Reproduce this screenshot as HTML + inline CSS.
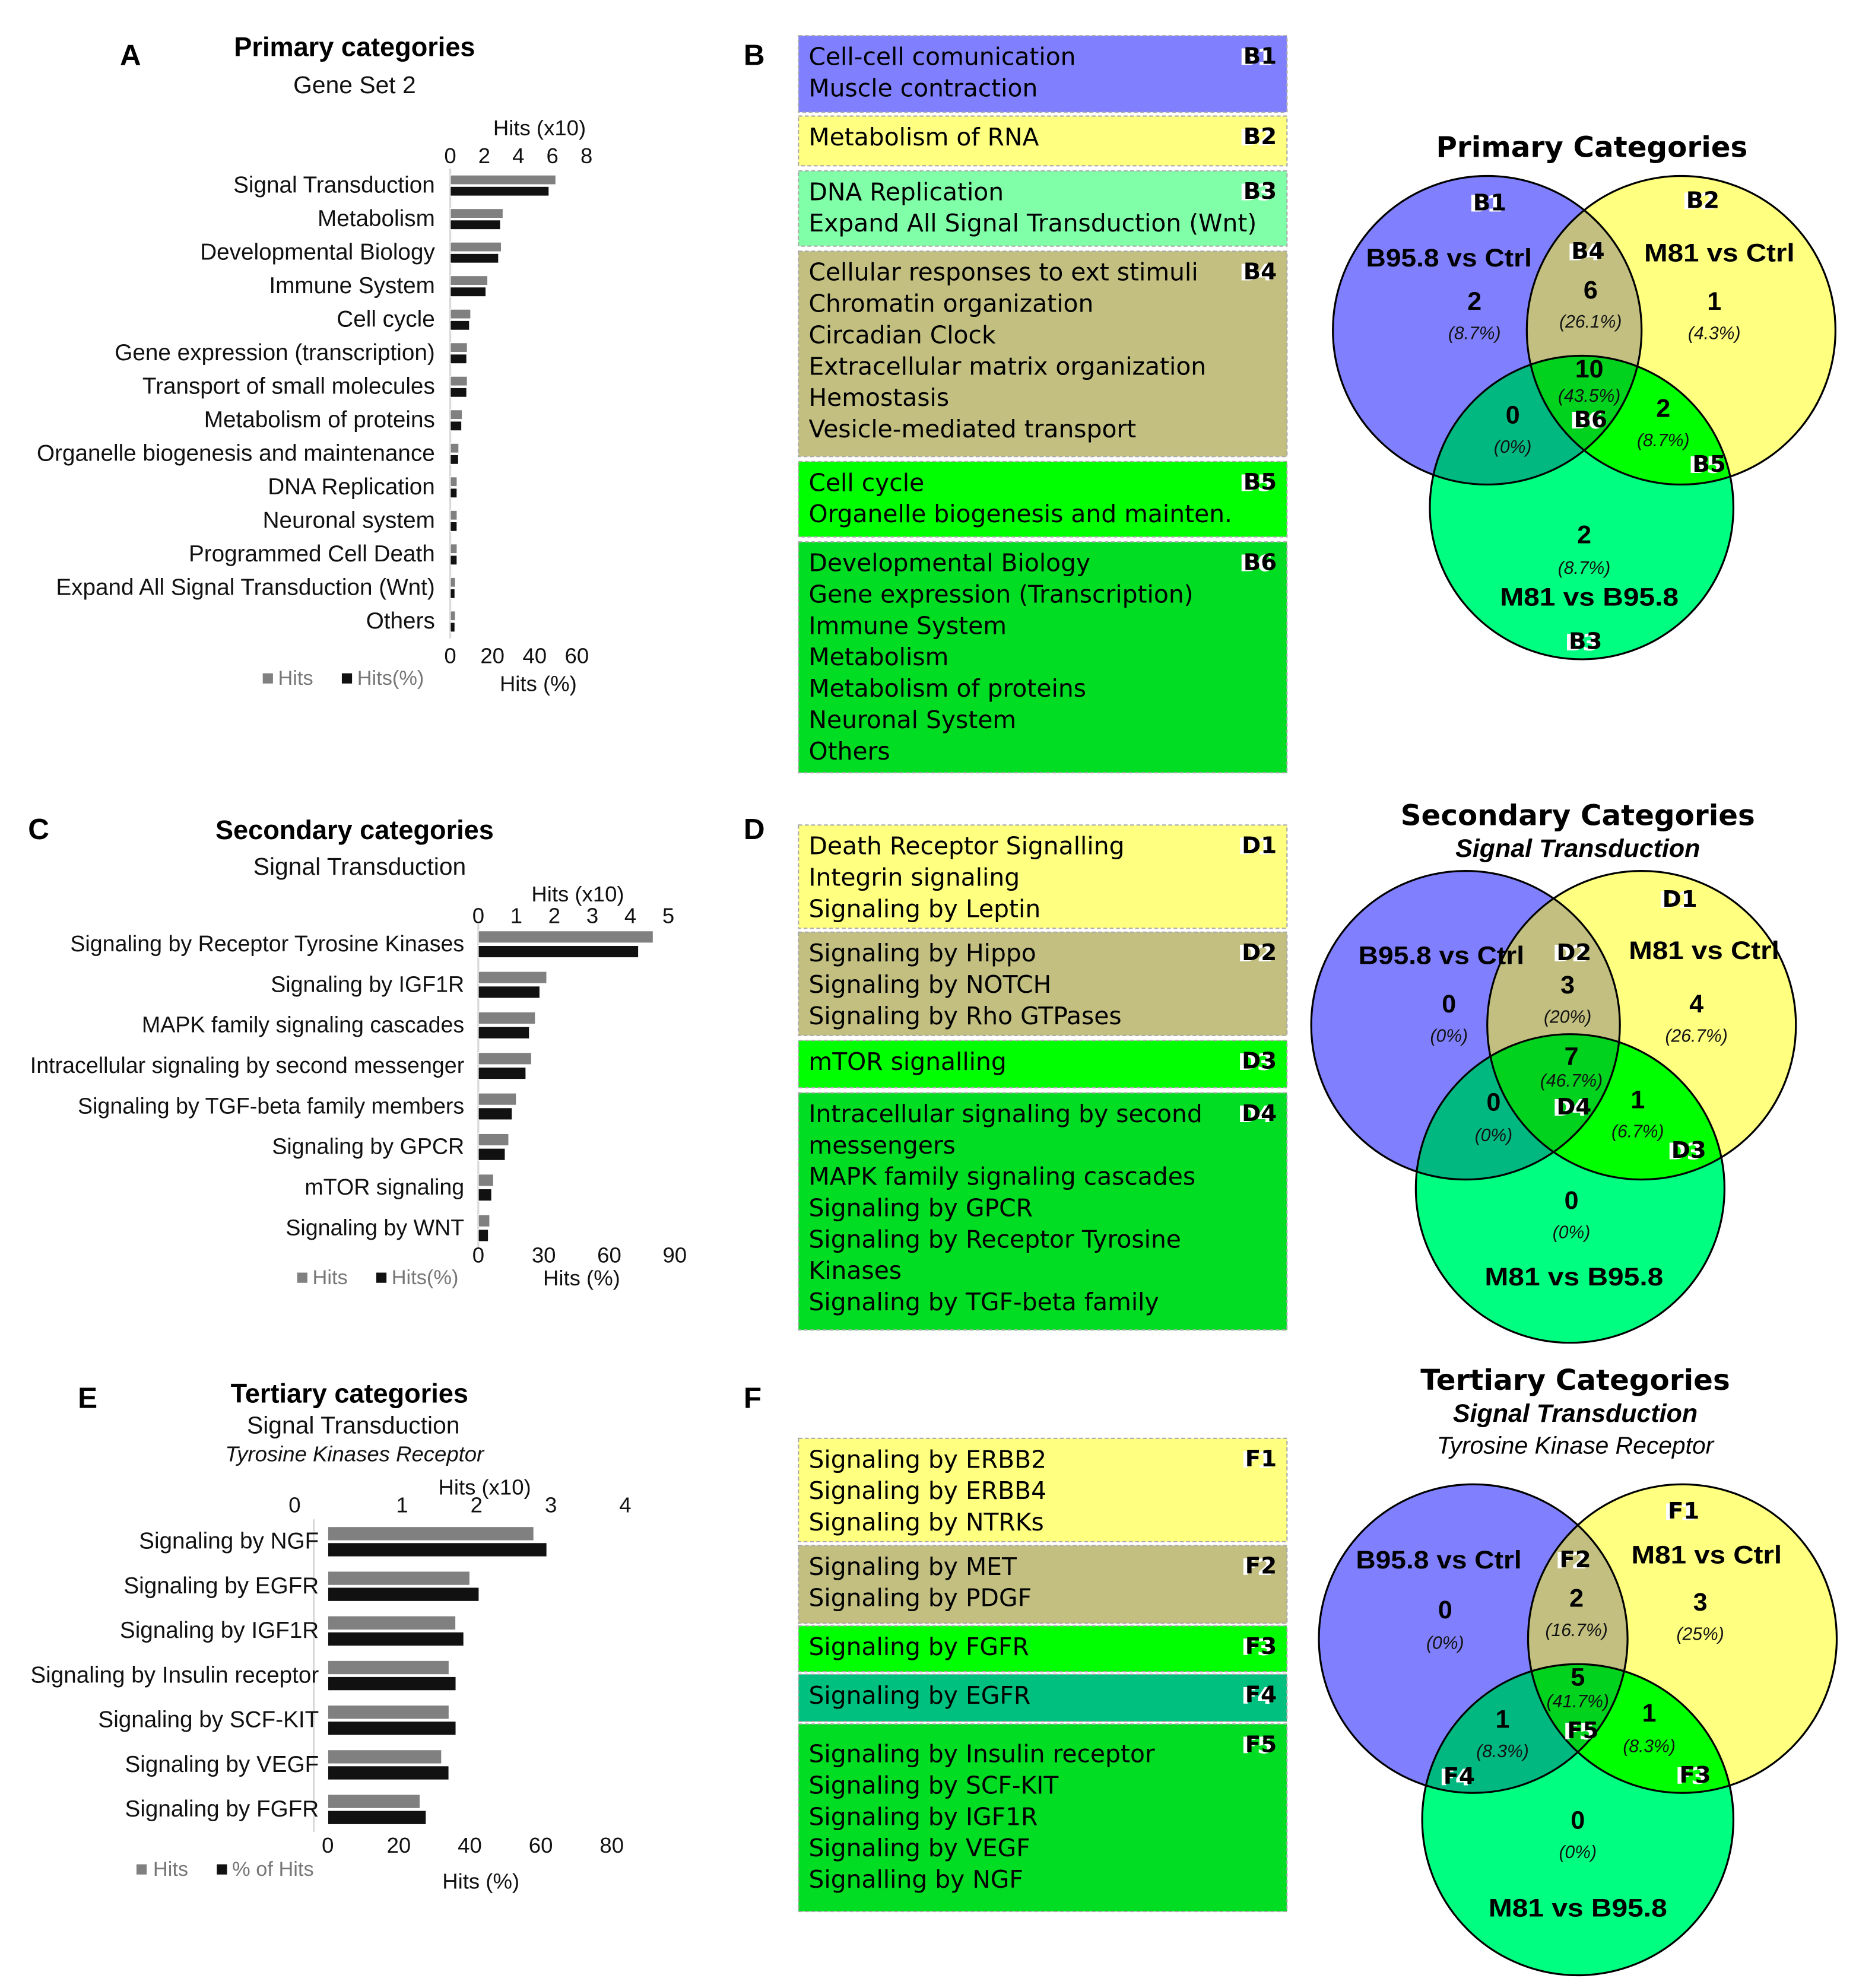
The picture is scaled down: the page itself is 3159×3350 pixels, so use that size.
<!DOCTYPE html>
<html><head><meta charset="utf-8"><style>
html,body{margin:0;padding:0;background:#fff}
svg{display:block}
.lab{font-family:"Liberation Sans",sans-serif;font-size:18px;fill:#111}
.labc{font-size:17.5px}
.tk{font-family:"Liberation Sans",sans-serif;font-size:17px;fill:#111}
.ttl{font-family:"Liberation Sans",sans-serif;font-size:21px;font-weight:bold;fill:#000}
.sub{font-family:"Liberation Sans",sans-serif;font-size:19px;fill:#111}
.pl{font-family:"Liberation Sans",sans-serif;font-size:23px;font-weight:bold;fill:#000}
.bx{font-family:"DejaVu Sans",sans-serif;font-size:19px;fill:#000}
.bl{font-family:"DejaVu Sans",sans-serif;font-size:18px;font-weight:bold}
.vt{font-family:"DejaVu Sans",sans-serif;font-size:22.5px;font-weight:bold;fill:#000}
.vn{font-family:"Liberation Sans",sans-serif;font-size:20px;font-weight:bold;fill:#000}
.vp{font-family:"Liberation Sans",sans-serif;font-size:14px;font-style:italic;fill:#111}
.lg{font-family:"Liberation Sans",sans-serif;font-size:16px;fill:#777}
</style></head><body>
<svg id="fig" xmlns="http://www.w3.org/2000/svg" width="3159" height="3350" viewBox="0 0 1470 1559" preserveAspectRatio="none">
<rect x="0" y="0" width="1470" height="1559" fill="#fff"/>
<text class="pl" x="94" y="51">A</text>
<text class="pl" x="583" y="51">B</text>
<text class="pl" x="22" y="658">C</text>
<text class="pl" x="583" y="658">D</text>
<text class="pl" x="61" y="1104">E</text>
<text class="pl" x="583" y="1104">F</text>

<text class="ttl" x="278" y="44" text-anchor="middle">Primary categories</text>
<text class="sub" x="278" y="73" text-anchor="middle">Gene Set 2</text>
<text class="tk" x="423" y="106" text-anchor="middle">Hits (x10)</text>
<text class="tk" x="422" y="542" text-anchor="middle">Hits (%)</text>
<rect x="206" y="528" width="8" height="8" fill="#808080"/>
<text class="lg" x="218" y="537">Hits</text>
<rect x="268" y="528" width="8" height="8" fill="#111"/>
<text class="lg" x="280" y="537">Hits(%)</text>

<text class="ttl" x="278" y="658" text-anchor="middle">Secondary categories</text>
<text class="sub" x="282" y="686" text-anchor="middle">Signal Transduction</text>
<text class="tk" x="453" y="707" text-anchor="middle">Hits (x10)</text>
<text class="tk" x="456" y="1008" text-anchor="middle">Hits (%)</text>
<rect x="233" y="998" width="8" height="8" fill="#808080"/>
<text class="lg" x="245" y="1007">Hits</text>
<rect x="295" y="998" width="8" height="8" fill="#111"/>
<text class="lg" x="307" y="1007">Hits(%)</text>

<text class="ttl" x="274" y="1100" text-anchor="middle">Tertiary categories</text>
<text class="sub" x="277" y="1124" text-anchor="middle">Signal Transduction</text>
<text class="tk" x="278" y="1146" text-anchor="middle" font-style="italic" font-size="16">Tyrosine Kinases Receptor</text>
<text class="tk" x="380" y="1172" text-anchor="middle">Hits (x10)</text>
<text class="tk" x="377" y="1481" text-anchor="middle">Hits (%)</text>
<rect x="107" y="1462" width="8" height="8" fill="#808080"/>
<text class="lg" x="120" y="1471">Hits</text>
<rect x="170" y="1462" width="8" height="8" fill="#111"/>
<text class="lg" x="182" y="1471">% of Hits</text>

<g id="charts"></g>
<g id="boxes"></g>
<g id="venns"></g>
</svg>
<script>
const catsA = ["Signal Transduction","Metabolism","Developmental Biology","Immune System","Cell cycle","Gene expression (transcription)","Transport of small molecules","Metabolism of proteins","Organelle biogenesis and maintenance","DNA Replication","Neuronal system","Programmed Cell Death","Expand All Signal Transduction (Wnt)","Others"];
const hitsA = [6.2,3.1,3.0,2.2,1.2,1.0,1.0,0.7,0.5,0.4,0.4,0.4,0.3,0.3];
const pctA = [46.8,23.8,22.9,16.9,9.1,7.8,7.8,5.4,3.9,3.2,3.2,3.2,2.2,2.2];
const topTicksA = [0,2,4,6,8];
const botTicksA = [0,20,40,60];
const catsC = ["Signaling by Receptor Tyrosine Kinases","Signaling by IGF1R","MAPK family signaling cascades","Intracellular signaling by second messenger","Signaling by TGF-beta family members","Signaling by GPCR","mTOR signaling","Signaling by WNT"];
const hitsC = [4.6,1.8,1.5,1.4,1.0,0.8,0.4,0.3];
const pctC = [73.4,28.2,23.4,21.8,15.5,12.3,6.1,4.6];
const topTicksC = [0,1,2,3,4,5];
const botTicksC = [0,30,60,90];
const catsE = ["Signaling by NGF","Signaling by EGFR","Signaling by IGF1R","Signaling by Insulin receptor","Signaling by SCF-KIT","Signaling by VEGF","Signaling by FGFR"];
const hitsE = [2.77,1.91,1.72,1.63,1.63,1.53,1.24];
const pctE = [61.7,42.6,38.3,36.1,36.1,34.1,27.7];
const topTicksE = [0,1,2,3,4];
const botTicksE = [0,20,40,60,80];

const NS="http://www.w3.org/2000/svg";
function mk(tag,attrs,parent,txt){const e=document.createElementNS(NS,tag);for(const k in attrs)e.setAttribute(k,attrs[k]);if(txt!==undefined)e.textContent=txt;parent.appendChild(e);return e;}

function barChart(id,cats,hits,pct,topT,botT,g){
  const root=document.getElementById('charts');
  const grp=mk('g',{},root);
  
  
  const xTop=v=>g.x0+v*g.kTop, xBot=v=>g.x0+v*g.kBot, yc=i=>g.c0+i*g.step;
  const ax=mk('line',{x1:g.axisX,x2:g.axisX,y1:yc(0)-g.step/2,y2:yc(cats.length-1)+g.step/2,stroke:'#d9d9d9','stroke-width':1.5},grp);
  
  
  cats.forEach((c,i)=>{
    const t=mk('text',{class:'lab'+(g.labCls?' '+g.labCls:''),x:g.labX,y:yc(i)+5.5,'text-anchor':'end'},grp,c);
    
    
    const b1=mk('rect',{x:g.x0,y:yc(i)-g.h-g.gap,width:xTop(hits[i])-g.x0,height:g.h,fill:'#808080',stroke:'#fff','stroke-width':0.6},grp);
    
    
    const b2=mk('rect',{x:g.x0,y:yc(i)+g.gap,width:xBot(pct[i])-g.x0,height:g.h,fill:'#111',stroke:'#fff','stroke-width':0.6},grp);
    
    
  });
  topT.forEach(v=>{
    const t=mk('text',{class:'tk',x:(g.topZero!==undefined&&v===0)?g.topZero:xTop(v),y:g.topY,'text-anchor':'middle'},grp,String(v));
    
    
  });
  botT.forEach(v=>{
    const t=mk('text',{class:'tk',x:xBot(v),y:g.botY,'text-anchor':'middle'},grp,String(v));
    
    
  });
}
barChart('chart-a',catsA,hitsA,pctA,topTicksA,botTicksA,{x0:353,axisX:353,kTop:13.35,kBot:1.654,c0:145.5,step:26.3,h:7.5,gap:0.7,labX:341,topY:128,botY:520});
barChart('chart-c',catsC,hitsC,pctC,topTicksC,botTicksC,{x0:375,axisX:375,kTop:29.8,kBot:1.711,c0:740.5,step:31.8,h:9.5,gap:1,labX:364,topY:724,botY:990,labCls:'labc'});
barChart('chart-e',catsE,hitsE,pctE,topTicksE,botTicksE,{x0:257,axisX:246,kTop:58.3,kBot:2.783,c0:1209,step:35,h:11,gap:0.8,labX:250,topY:1186,botY:1453,topZero:231});

const boxes=[
 {id:'B1',y:28,h:60,fill:'#8080ff',lines:["Cell-cell comunication","Muscle contraction"]},
 {id:'B2',y:91,h:39,fill:'#ffff80',lines:["Metabolism of RNA"]},
 {id:'B3',y:134,h:59,fill:'#80ffa8',lines:["DNA Replication","Expand All Signal Transduction (Wnt)"]},
 {id:'B4',y:197,h:161,fill:'#c2bf80',lines:["Cellular responses to ext stimuli","Chromatin organization","Circadian Clock","Extracellular matrix organization","Hemostasis","Vesicle-mediated transport"]},
 {id:'B5',y:362,h:59,fill:'#00ff00',lines:["Cell cycle","Organelle biogenesis and mainten."]},
 {id:'B6',y:425,h:181,fill:'#00dd22',lines:["Developmental Biology","Gene expression (Transcription)","Immune System","Metabolism","Metabolism of proteins","Neuronal System","Others"]},
 {id:'D1',y:647,h:81,fill:'#ffff80',lines:["Death Receptor Signalling","Integrin signaling","Signaling by Leptin"]},
 {id:'D2',y:731,h:81,fill:'#c2bf80',lines:["Signaling by Hippo","Signaling by NOTCH","Signaling by Rho GTPases"]},
 {id:'D3',y:816,h:37,fill:'#00ff00',lines:["mTOR signalling"]},
 {id:'D4',y:857,h:186,fill:'#00dd22',lines:["Intracellular signaling by second","messengers","MAPK family signaling cascades","Signaling by GPCR","Signaling by Receptor Tyrosine","Kinases","Signaling by TGF-beta family"]},
 {id:'F1',y:1128,h:81,fill:'#ffff80',lines:["Signaling by ERBB2","Signaling by ERBB4","Signaling by NTRKs"]},
 {id:'F2',y:1212,h:61,fill:'#c2bf80',lines:["Signaling by MET","Signaling by PDGF"]},
 {id:'F3',y:1275,h:36,fill:'#00ff00',lines:["Signaling by FGFR"]},
 {id:'F4',y:1313,h:37,fill:'#00c080',lines:["Signaling by EGFR"]},
 {id:'F5',y:1352,h:147,fill:'#00dd22',first:30,lines:["Signaling by Insulin receptor","Signaling by SCF-KIT","Signaling by IGF1R","Signaling by VEGF","Signalling by NGF"]}
];
const bxRoot=document.getElementById('boxes');
boxes.forEach(b=>{
  const g=mk('g',{},bxRoot);
  
  
  mk('rect',{x:626,y:b.y,width:383,height:b.h,fill:b.fill,stroke:'#aaa','stroke-width':1,'stroke-dasharray':'3 2'},g);
  const f=b.first||23;
  b.lines.forEach((l,i)=>{
    const t=mk('text',{class:'bx',x:634,y:b.y+f+i*24.6},g,l);
    
    
  });
  mk('text',{class:'bl',x:1000-2,y:b.y+23,'text-anchor':'end',fill:'#fff'},g,b.id);
  const lt=mk('text',{class:'bl',x:1001,y:b.y+22,'text-anchor':'end',fill:'#000'},g,b.id);
  
  
});

const venns=[
 {id:'b',A:[1166,259,121],B:[1318,259,121],C:[1240,398,119],
  title:[1248,123,"Primary Categories"],sub:[],
  texts:[["lbl",1167,165,"B1"],["vn",1136,209,"B95.8 vs Ctrl"],["vn",1156,243,"2"],["vp",1156,266,"(8.7%)"],
   ["lbl",1244,203,"B4"],["vn",1247,234,"6"],["vp",1247,257,"(26.1%)"],
   ["lbl",1334,163,"B2"],["vn",1348,205,"M81 vs Ctrl"],["vn",1344,243,"1"],["vp",1344,266,"(4.3%)"],
   ["vn16",1246,296,"10"],["vp12",1246,315,"(43.5%)"],["lbl",1246,335,"B6"],
   ["vn",1186,332,"0"],["vp",1186,355,"(0%)"],["vn",1304,327,"2"],["vp",1304,350,"(8.7%)"],["lbl",1339,370,"B5"],
   ["vn",1242,426,"2"],["vp",1242,450,"(8.7%)"],["vn",1246,475,"M81 vs B95.8"],["lbl",1242,509,"B3"]]},
 {id:'d',A:[1149,804,121],B:[1287,804,121],C:[1231,932,121],
  title:[1237,647,"Secondary Categories"],sub:[[1237,672,"Signal Transduction","bi"]],
  texts:[["lbl",1316,711,"D1"],["vn",1130,756,"B95.8 vs Ctrl"],["vn",1136,794,"0"],["vp",1136,817,"(0%)"],
   ["lbl",1233,753,"D2"],["vn",1229,779,"3"],["vp",1229,802,"(20%)"],
   ["vn",1336,752,"M81 vs Ctrl"],["vn",1330,794,"4"],["vp",1330,817,"(26.7%)"],
   ["vn16",1232,835,"7"],["vp12",1232,852,"(46.7%)"],["lbl",1233,874,"D4"],
   ["vn",1171,871,"0"],["vp",1171,895,"(0%)"],["vn",1284,869,"1"],["vp",1284,892,"(6.7%)"],["lbl",1323,908,"D3"],
   ["vn",1232,948,"0"],["vp",1232,971,"(0%)"],["vn",1234,1008,"M81 vs B95.8"]]},
 {id:'f',A:[1155,1285,121],B:[1319,1285,121],C:[1237,1427,122],
  title:[1235,1090,"Tertiary Categories"],sub:[[1235,1115,"Signal Transduction","bi"],[1235,1140,"Tyrosine Kinase Receptor","i"]],
  texts:[["lbl",1319,1191,"F1"],["vn",1128,1230,"B95.8 vs Ctrl"],["vn",1133,1269,"0"],["vp",1133,1293,"(0%)"],
   ["lbl",1234,1229,"F2"],["vn",1236,1260,"2"],["vp",1236,1283,"(16.7%)"],
   ["vn",1338,1226,"M81 vs Ctrl"],["vn",1333,1263,"3"],["vp",1333,1286,"(25%)"],
   ["vn16",1237,1322,"5"],["vp12",1237,1339,"(41.7%)"],["lbl",1240,1363,"F5"],
   ["vn",1178,1355,"1"],["vp",1178,1378,"(8.3%)"],["lbl",1143,1399,"F4"],
   ["vn",1293,1350,"1"],["vp",1293,1374,"(8.3%)"],["lbl",1328,1398,"F3"],
   ["vn",1237,1434,"0"],["vp",1237,1457,"(0%)"],["vn",1237,1503,"M81 vs B95.8"]]}
];
const vRoot=document.getElementById('venns');
const defs=mk('defs',{},vRoot);
venns.forEach(v=>{
  const g=mk('g',{},vRoot);
  
  
  ['A','B','C'].forEach(k=>{const cp=mk('clipPath',{id:'cp'+v.id+k},defs);mk('circle',{cx:v[k][0],cy:v[k][1],r:v[k][2]},cp);});
  const circ=(k,fill,parent,attrs)=>mk('circle',Object.assign({cx:v[k][0],cy:v[k][1],r:v[k][2],fill:fill},attrs||{}),parent);
  const ca=circ('A','#8080ff',g);  
  const cb=circ('B','#ffff80',g);  
  const cc=circ('C','#00ff80',g);  
  const gab=mk('g',{'clip-path':'url(#cp'+v.id+'A)'},g); circ('B','#c2bf80',gab); circ('C','#00b880',gab);
  const gbc=mk('g',{'clip-path':'url(#cp'+v.id+'B)'},g); circ('C','#00ff00',gbc);
  const gabc=mk('g',{'clip-path':'url(#cp'+v.id+'A)'},g); const gabc2=mk('g',{'clip-path':'url(#cp'+v.id+'B)'},gabc); circ('C','#00d21e',gabc2);
  ['A','B','C'].forEach(k=>circ(k,'none',g,{stroke:'#000','stroke-width':1.5}));
  const tt=mk('text',{class:'vt',x:v.title[0],y:v.title[1],'text-anchor':'middle'},g,v.title[2]);
   
  v.sub.forEach(s=>{
    const st=mk('text',{x:s[0],y:s[1],'text-anchor':'middle','font-family':'"Liberation Sans",sans-serif','font-size':s[3]==='bi'?20:19,'font-style':'italic','font-weight':s[3]==='bi'?'bold':'normal',fill:'#000'},g,s[2]);
     
  });
  v.texts.forEach(t=>{
    let e;
    if(t[0]==='lbl'){
      mk('text',{class:'bl',x:t[1]-2,y:t[2]+1,'text-anchor':'middle',fill:'#fff'},g,t[3]);
      e=mk('text',{class:'bl',x:t[1]+1,y:t[2],'text-anchor':'middle',fill:'#000'},g,t[3]);
    } else if(t[0]==='vn16'){
      e=mk('text',{class:'vn',x:t[1],y:t[2],'text-anchor':'middle','font-size':16},g,t[3]);
    } else if(t[0]==='vp12'){
      e=mk('text',{class:'vp',x:t[1],y:t[2],'text-anchor':'middle','font-size':11},g,t[3]);
    } else {
      const a={class:t[0],x:t[1],y:t[2],'text-anchor':'middle'};
      if(t[3].length>8){a.textLength=t[3]==="M81 vs Ctrl"?118:(t[3]==="B95.8 vs Ctrl"?130:140);a.lengthAdjust='spacingAndGlyphs';}
      e=mk('text',a,g,t[3]);
    }
    
    
  });
});
</script>
</body></html>
